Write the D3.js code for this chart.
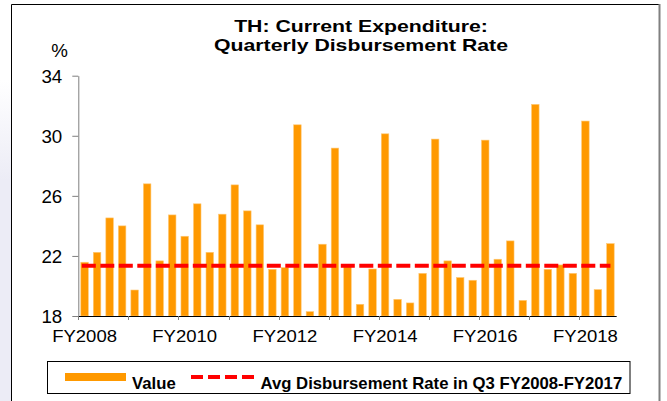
<!DOCTYPE html>
<html>
<head>
    <script src="https://cdnjs.cloudflare.com/ajax/libs/d3/7.8.5/d3.min.js"></script>
    <style>
        body { margin: 0; background: #fff; }
        text { font-family: "Liberation Sans", Arial, sans-serif; fill: #000; }
    </style>
</head>
<body>
    <div id="chart"></div>
    <script>
        // Quarterly disbursement rate, FY2008 Q1 .. FY2018 Q3
        const years = ["FY2008","FY2009","FY2010","FY2011","FY2012","FY2013","FY2014","FY2015","FY2016","FY2017","FY2018"];
        const quarters = years.flatMap(y => ["Q1","Q2","Q3","Q4"].map(q => y + " " + q)).slice(0, 43);
        const values = [21.58, 22.24, 24.53, 24.0, 19.73, 26.8, 21.67, 24.73, 23.31, 25.47,
                        22.24, 24.78, 26.73, 25.0, 24.07, 21.11, 21.22, 30.73, 18.29, 22.78,
                        29.18, 21.3, 18.78, 21.13, 30.13, 19.11, 18.87, 20.84, 29.78, 21.67,
                        20.56, 20.38, 29.71, 21.78, 23.0, 19.04, 32.09, 21.11, 21.4, 20.84,
                        30.98, 19.76, 22.82];
        const avgQ3 = 21.35;
        const yTicks = [18, 22, 26, 30, 34];
        const labelYears = ["FY2008","FY2010","FY2012","FY2014","FY2016","FY2018"];

        const width = 667, height = 401;
        const plot = { left: 78.3, right: 616.7, top: 75.7, bottom: 316 };

        const svg = d3.select("#chart").append("svg")
            .attr("width", width).attr("height", height);

        // faint strip outside the frame on the left
        const grad = svg.append("defs").append("linearGradient")
            .attr("id", "strip").attr("x1", 0).attr("y1", 0).attr("x2", 0).attr("y2", 1);
        grad.append("stop").attr("offset", "0.2").attr("stop-color", "#fff");
        grad.append("stop").attr("offset", "0.45").attr("stop-color", "#ececf6");
        grad.append("stop").attr("offset", "1").attr("stop-color", "#ececf6");
        svg.append("rect").attr("x", 0).attr("y", 0).attr("width", 11).attr("height", height)
            .attr("fill", "url(#strip)");

        // frame
        svg.append("path").attr("d", "M11.5,401 V4.5 H659").attr("fill", "none")
            .attr("stroke", "#000").attr("stroke-width", 1);
        svg.append("line").attr("x1", 659.5).attr("x2", 659.5).attr("y1", 4).attr("y2", 401)
            .attr("stroke", "#808080").attr("stroke-width", 2);

        const x = d3.scaleBand().domain(quarters).range([plot.left, plot.right])
            .paddingInner(0.4).paddingOuter(0.2);
        const y = d3.scaleLinear().domain([18, 34]).range([plot.bottom, plot.top]);
        const step = x.step();

        // title
        const title = svg.append("g").attr("font-weight", "bold").attr("font-size", 17)
            .attr("text-anchor", "middle");
        ["TH: Current Expenditure:", "Quarterly Disbursement Rate"].forEach((t, i) => {
            title.append("text").attr("transform", `translate(361,${31.5 + i * 19}) scale(1.25,1)`).text(t);
        });

        svg.append("text").attr("transform", "translate(59.5,57) scale(1.07,1)")
            .attr("text-anchor", "middle").attr("font-size", 17.5).text("%");

        // bars
        svg.append("g").selectAll("rect").data(values).join("rect")
            .attr("x", (d, i) => x(quarters[i]))
            .attr("y", d => y(d))
            .attr("width", x.bandwidth())
            .attr("height", d => y(18) - y(d))
            .attr("fill", "#ff9900")
            .attr("stroke", "#ffc873").attr("stroke-width", 0.6);

        // average line
        svg.append("line")
            .attr("x1", x(quarters[0]) + 1)
            .attr("x2", x(quarters[quarters.length - 1]) + x.bandwidth() / 2)
            .attr("y1", y(avgQ3)).attr("y2", y(avgQ3))
            .attr("stroke", "#ff0000").attr("stroke-width", 4)
            .attr("stroke-dasharray", "14 4.5");

        // y axis
        const yAxis = svg.append("g").attr("transform", `translate(${plot.left},0)`)
            .call(d3.axisLeft(y).tickValues(yTicks).tickSize(6).tickPadding(9).tickSizeOuter(0));
        yAxis.select(".domain").attr("stroke", "#7f7f7f");
        yAxis.selectAll(".tick line").attr("stroke", "#7f7f7f");
        yAxis.selectAll(".tick text").attr("font-size", 17.5).attr("font-family", null)
            .attr("fill", "#000").attr("dy", "0.36em")
            .attr("transform", "scale(1.07,1)");

        // x axis
        const xAxis = svg.append("g");
        xAxis.append("line").attr("x1", plot.left).attr("x2", plot.right)
            .attr("y1", plot.bottom + 0.5).attr("y2", plot.bottom + 0.5)
            .attr("stroke", "#000");
        const yearStart = y0 => x(y0 + " Q1") - step * x.paddingInner() / 2;
        xAxis.selectAll("line.tick").data(years).join("line").attr("class", "tick")
            .attr("x1", d => Math.round(yearStart(d)) + 0.5).attr("x2", d => Math.round(yearStart(d)) + 0.5)
            .attr("y1", plot.bottom).attr("y2", plot.bottom + 4)
            .attr("stroke", "#7f7f7f");
        xAxis.selectAll("text").data(labelYears).join("text")
            .attr("transform", d => `translate(${x(d + " Q1") + x.bandwidth() / 2},341.5) scale(1.09,1)`)
            .attr("text-anchor", "middle").attr("font-size", 17).text(d => d);

        // legend
        const lg = svg.append("g");
        lg.append("rect").attr("x", 47.5).attr("y", 361.5).attr("width", 582.5).attr("height", 32)
            .attr("fill", "#fff").attr("stroke", "#000");
        lg.append("rect").attr("x", 65).attr("y", 373).attr("width", 61).attr("height", 8)
            .attr("fill", "#ff9900");
        lg.append("line").attr("x1", 191).attr("x2", 255).attr("y1", 377).attr("y2", 377)
            .attr("stroke", "#ff0000").attr("stroke-width", 4).attr("stroke-dasharray", "12 5");
        lg.append("text").attr("transform", "translate(132,388.5) scale(1.045,1)")
            .attr("font-weight", "bold").attr("font-size", 16).text("Value");
        lg.append("text").attr("transform", "translate(260.5,388.5) scale(1.045,1)")
            .attr("font-weight", "bold").attr("font-size", 16)
            .text("Avg Disbursement Rate in Q3 FY2008-FY2017");
    </script>
</body>
</html>
